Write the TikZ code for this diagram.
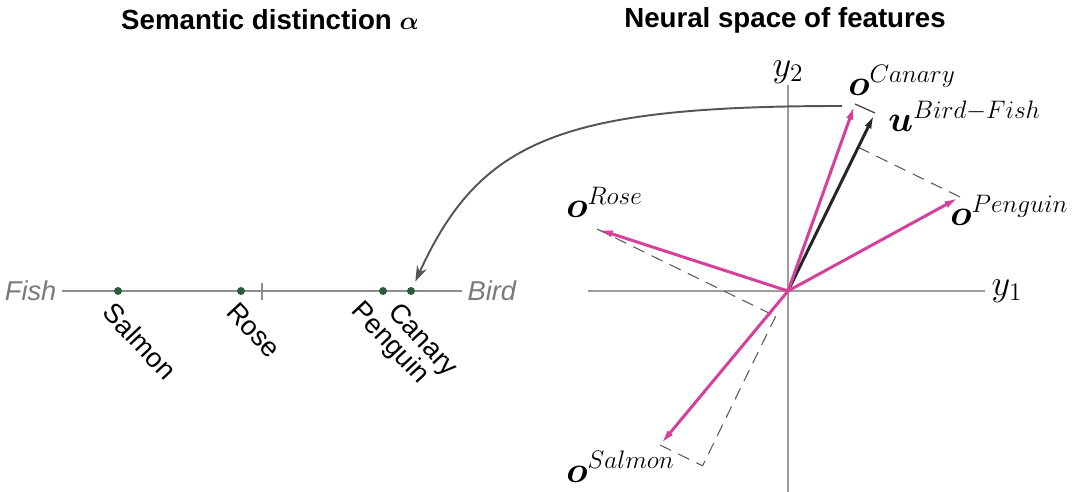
\documentclass[tikz,border=0pt]{standalone}
\usepackage{amsmath}
\usepackage{fontspec}
\setmainfont{Liberation Sans}
\usepackage{tikz}
\usetikzlibrary{arrows.meta, positioning, calc}
\definecolor{vecpink}{HTML}{D6409A}
\definecolor{axisgray}{HTML}{9C9C9C}
\definecolor{dotgreen}{HTML}{2E5B3E}
\definecolor{curvegray}{HTML}{555555}
\definecolor{labelgray}{HTML}{7A7A7A}

\begin{document}
\begin{tikzpicture}[
    x=0.02cm, y=-0.02cm,
    title/.style={font=\fontsize{15.75}{18}\selectfont\bfseries},
    axlbl/.style={font=\fontsize{15.5}{18}\selectfont\itshape, text=labelgray, inner sep=3pt},
    pt/.style={circle, fill=dotgreen, inner sep=0pt, minimum size=0.16cm},
    word/.style={font=\fontsize{15.5}{18}\selectfont, rotate=-47, anchor=north west, inner sep=0pt},
    vlbl/.style={font=\fontsize{21}{25}\selectfont, anchor=base west, inner sep=0pt},
    axis/.style={draw=axisgray, line width=0.8pt},
    vec/.style={draw=vecpink, line width=1.7pt, -{Latex[length=9pt, width=4pt]}},
    uvec/.style={draw=black!85, line width=1.7pt, -{Latex[length=9pt, width=4pt]}},
    proj/.style={draw=black!65, line width=0.6pt, dash pattern=on 7pt off 4.5pt},
    arrow/.style={draw=curvegray, line width=1.1pt, -{Stealth[length=9pt, width=6pt]}, shorten >=0.12cm}
]
\useasboundingbox (0,0) rectangle (1077,492);

% Titles
\node[title] (ltitle) at (270,20) {Semantic distinction $\boldsymbol{\alpha}$};
\node[title] (rtitle) at (785,20) {Neural space of features};

% Semantic axis
\node[axlbl, anchor=east] (fish) at (62,291) {Fish};
\node[axlbl, anchor=west] (bird) at (462,291) {Bird};
\draw[axis, draw=black!45, line width=1pt] (fish.east) -- (bird.west);
\draw[draw=black!45, line width=0.8pt] (262,283) -- (262,300);

\node[pt] (salmon) at (118,291) {};
\node[pt] (rose) at (241,291) {};
\node[pt] (penguin) at (383,291) {};
\node[pt] (canary) at (411,291) {};

\node[word] at ([shift={(-2,9)}]salmon) {Salmon};
\node[word] at ([shift={(-2,9)}]rose) {Rose};
\node[word] at ([shift={(-18,7)}]penguin) {Penguin};
\node[word] at ([shift={(-10,9)}]canary) {Canary};

% Feature space
\coordinate (o) at (788,291);
\draw[axis] (588,291) -- (985,291);
\draw[axis] (788,85) -- (788,492);
\node[font=\fontsize{20}{24}\selectfont] (y1) at (1007,291) {$y_1$};
\node[font=\fontsize{20}{24}\selectfont] (y2) at (788,72) {$y_2$};

\coordinate (canaryv) at (855,104);
\coordinate (penguinv) at (960,197);
\coordinate (rosev) at (597,229);
\coordinate (salmonv) at (660,445);
\coordinate (uv) at (875,113);

\coordinate (penguinp) at ($(o)!(penguinv)!(uv)$);
\coordinate (rosep) at ($(o)!(rosev)!(uv)$);
\coordinate (salmonp) at ($(o)!(salmonv)!(uv)$);

% Projections
\draw[proj] (penguinv) -- (penguinp);
\draw[proj] (rosev) -- (rosep);
\draw[proj] (salmonv) -- (salmonp) -- (rosep);
\draw[draw=black!75, line width=0.7pt] (canaryv) -- (uv);

% Vectors
\draw[uvec] (o) -- (uv);
\draw[vec] (o) -- (canaryv);
\draw[vec] (o) -- (penguinv);
\draw[vec] (o) -- (rosev);
\draw[vec] (o) -- (salmonv);

\node[vlbl] (canarylbl) at (848,96) {$\boldsymbol{o}^{Canary}$};
\node[vlbl] (ulbl) at (888,132) {$\boldsymbol{u}^{Bird-Fish}$};
\node[vlbl] (roselbl) at (566,218) {$\boldsymbol{o}^{Rose}$};
\node[vlbl] (penguinlbl) at (950,226) {$\boldsymbol{o}^{Penguin}$};
\node[vlbl] (salmonlbl) at (566,482) {$\boldsymbol{o}^{Salmon}$};

% Arrow
\coordinate (start) at (842,106);
\draw[arrow] (start) .. controls (560,106) and (480,140) .. (canary);

\end{tikzpicture}
\end{document}
